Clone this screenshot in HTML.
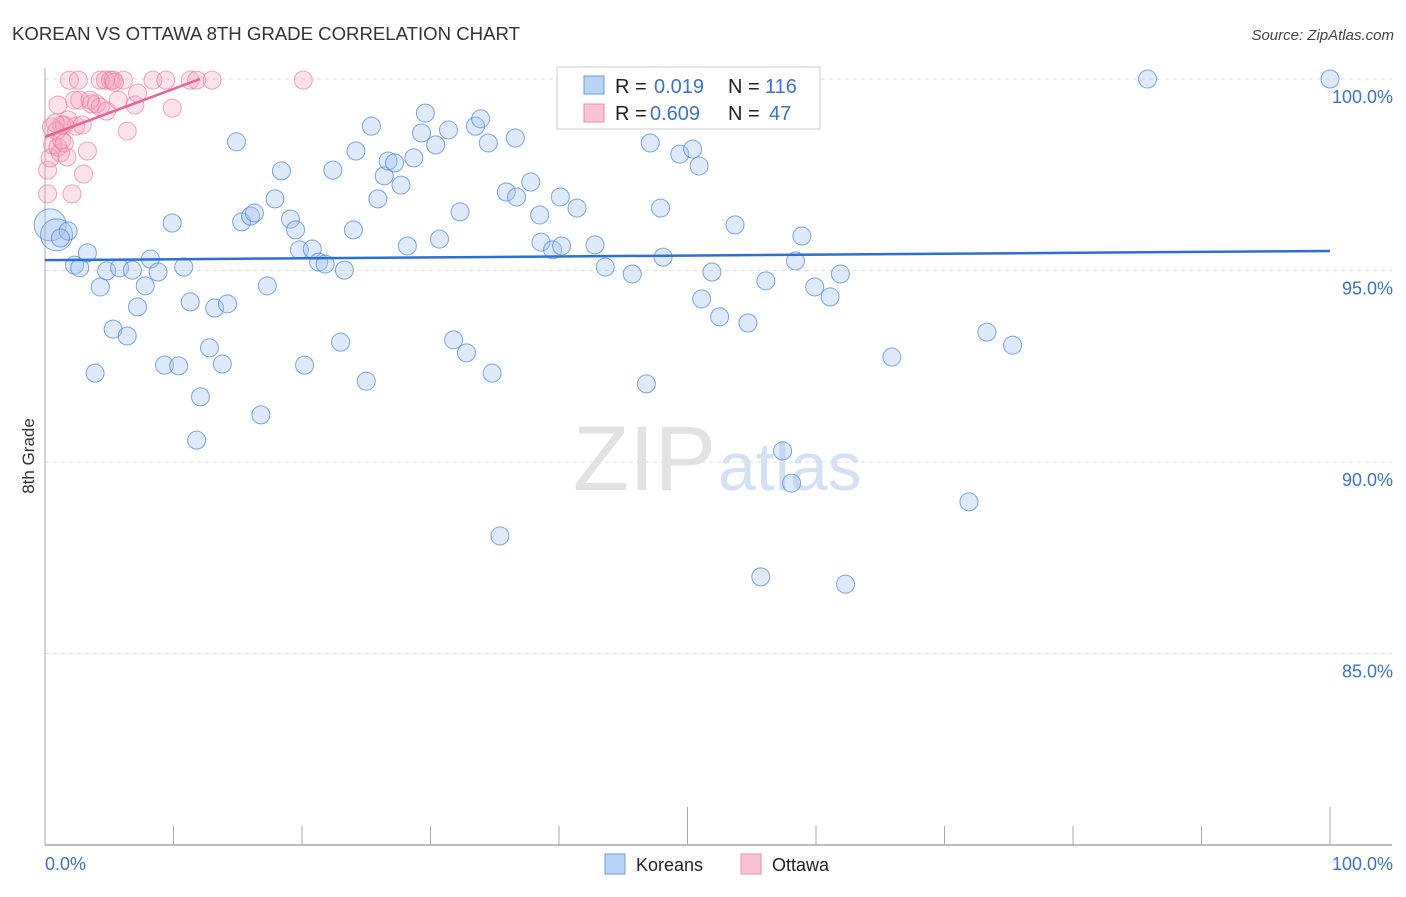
<!DOCTYPE html>
<html><head><meta charset="utf-8"><style>
body{margin:0;background:#fff;font-family:"Liberation Sans",sans-serif}
svg text{font-family:"Liberation Sans",sans-serif}
</style></head><body>
<svg id="chart" width="1406" height="892" viewBox="0 0 1406 892" xmlns="http://www.w3.org/2000/svg">
<text x="12" y="40" font-size="18.6" fill="#333">KOREAN VS OTTAWA 8TH GRADE CORRELATION CHART</text>
<text x="1394" y="40" font-size="15" fill="#444" text-anchor="end" font-style="italic">Source: ZipAtlas.com</text>
<text x="716" y="490" font-size="92" fill="#e2e2e2" text-anchor="end" font-family="Liberation Serif">ZIP</text>
<text x="718" y="490" font-size="68" fill="#d3e1f4">atlas</text>
<g id="grid"></g>
<g id="axes"></g>
<g id="pts"></g>
<g id="lines"></g>
<text transform="translate(34,456) rotate(-90)" font-size="17" fill="#333" text-anchor="middle">8th Grade</text>
<g>
<rect x="557" y="67" width="263" height="62" fill="#fff" stroke="#ccc"/>
<rect x="584" y="76" width="20" height="18" fill="#b8d4f5" stroke="#6a9de0"/>
<rect x="584" y="104" width="20" height="18" fill="#f9c3d3" stroke="#eb8fab"/>
<text x="615" y="93" font-size="20" fill="#222">R = </text><text x="654" y="93" font-size="20" fill="#3b72cc">0.019</text>
<text x="728" y="93" font-size="20" fill="#222">N = </text><text x="765" y="93" font-size="20" fill="#3b72cc">116</text>
<text x="615" y="120" font-size="20" fill="#222">R = </text><text x="650" y="120" font-size="20" fill="#3b72cc">0.609</text>
<text x="728" y="120" font-size="20" fill="#222">N = </text><text x="769" y="120" font-size="20" fill="#3b72cc">47</text>
</g>
<g>
<rect x="605" y="854" width="20" height="20" fill="#b8d4f5" stroke="#6a9de0"/>
<text x="636" y="871" font-size="18" fill="#222">Koreans</text>
<rect x="741" y="854" width="20" height="20" fill="#f9c3d3" stroke="#eb8fab"/>
<text x="772" y="871" font-size="18" fill="#222">Ottawa</text>
</g>
</svg>
<script>
const yTicks=[100,95,90,85];
const yTickLabels=["100.0%","95.0%","90.0%","85.0%"];
const xTicks=[0,10,20,30,40,50,60,70,80,90,100];
const koreansX=[0.4,0.9,1.8,1.2,2.3,2.7,3.3,3.9,4.3,4.8,5.3,5.8,6.4,6.8,7.2,7.8,8.2,8.8,9.3,9.9,10.4,10.8,11.3,11.8,12.1,12.8,13.2,13.8,14.2,14.9,15.3,16.0,16.3,16.8,17.3,17.9,18.4,19.1,19.5,19.8,20.2,20.8,21.3,21.8,22.4,23.0,23.3,24.0,24.2,25.0,25.4,25.9,26.4,26.7,27.2,27.7,28.2,28.7,29.3,29.6,30.4,30.7,31.4,31.8,32.3,32.8,33.5,33.9,34.5,34.8,35.4,35.9,36.6,36.7,37.8,38.5,38.6,39.5,40.1,40.2,41.4,42.8,43.6,45.7,46.8,47.1,47.9,48.1,49.4,50.4,51.1,50.9,51.9,52.5,53.7,54.7,55.7,56.1,57.4,58.1,58.4,58.9,59.9,61.1,61.9,65.9,71.9,73.3,75.3,85.8,100,40.8,54.4,62.3];
const koreansY=[96.19,95.93,96.03,95.85,95.14,95.07,95.46,92.32,94.57,94.99,93.47,95.07,93.29,95.01,94.05,94.60,95.30,94.96,92.53,96.24,92.51,95.09,94.18,90.57,91.70,92.98,94.02,92.56,94.13,98.36,96.27,96.42,96.50,91.23,94.60,96.87,97.60,96.34,96.06,95.54,92.53,95.56,95.22,95.17,97.62,93.13,95.01,96.06,98.12,92.11,98.77,96.87,97.47,97.86,97.81,97.23,95.64,97.94,98.59,99.11,98.28,95.82,98.67,93.19,96.53,92.85,98.77,98.96,98.33,92.32,88.07,97.05,98.46,96.92,97.31,96.45,95.74,95.54,96.92,95.64,96.63,95.67,95.09,94.91,92.04,98.33,96.63,95.35,98.04,98.17,94.26,97.73,94.96,93.79,96.19,93.63,87.00,94.73,90.29,89.45,95.25,95.90,94.57,94.31,94.91,92.74,88.96,93.39,93.05,100,100,100,100,86.81];
const ottawaX=[0.2,0.2,0.4,0.5,0.6,0.9,1.0,1.2,1.3,1.5,1.7,1.8,1.9,2.1,2.3,2.4,2.7,2.9,3.0,3.3,3.6,4.0,4.3,4.7,4.8,5.1,5.3,5.7,6.1,6.4,7.0,7.2,8.4,9.4,9.9,11.3,11.8,13.0,20.1,1.0,1.3,1.5,0.8,4.3,5.4,2.6,3.5];
const ottawaY=[97.0,97.62,97.94,98.75,98.28,98.64,98.22,98.07,98.41,98.80,97.96,98.93,99.97,97.0,99.45,98.77,99.45,98.80,97.52,98.12,99.35,99.35,99.97,99.97,99.16,99.97,99.97,99.45,99.97,98.64,99.32,99.63,99.97,99.97,99.24,99.97,99.97,99.97,99.97,99.32,98.80,98.33,98.85,99.27,99.92,99.97,99.45];
const koreansTrend=[[0,95.27],[100,95.51]];
const ottawaTrend=[[0,98.49],[12.06,100]];
const NS="http://www.w3.org/2000/svg";
const X=v=>45+v*12.85, Y=v=>79+(100-v)*38.3;
function mk(t,a,p){const e=document.createElementNS(NS,t);for(const k in a)e.setAttribute(k,a[k]);document.getElementById(p).appendChild(e);return e;}
yTicks.forEach((t,i)=>{
 const l=mk('line',{x1:45,x2:1392,y1:Y(t),y2:Y(t),stroke:'#ddd','stroke-dasharray':'4,4'},'grid');
 
 
 const tx=mk('text',{x:1393,y:Y(t)+24,'font-size':18,fill:'#3b72cc','text-anchor':'end'},'axes');
 tx.textContent=yTickLabels[i];
 
 
});
const ax=mk('line',{x1:45,x2:45,y1:68,y2:845,stroke:'#aaa'},'axes');


const bx=mk('line',{x1:45,x2:1392,y1:845,y2:845,stroke:'#aaa','stroke-width':1.5},'axes');


xTicks.forEach(t=>{
 const tl=mk('line',{x1:X(t),x2:X(t),y1:(t===50||t===100)?807:826,y2:845,stroke:'#aaa'},'axes');
 
 
});
const x0=mk('text',{x:45,y:870,'font-size':18,fill:'#3b72cc'},'axes');x0.textContent='0.0%';


const x1=mk('text',{x:1393,y:870,'font-size':18,fill:'#3b72cc','text-anchor':'end'},'axes');x1.textContent='100.0%';


ottawaX.forEach((v,i)=>{
 const c=mk('circle',{cx:X(v),cy:Y(ottawaY[i]),r:9,fill:'rgba(246,160,188,0.3)',stroke:'rgba(234,120,155,0.65)','stroke-width':1},'pts');
 
 
});
koreansX.forEach((v,i)=>{
 const c=mk('circle',{cx:X(v),cy:Y(koreansY[i]),r:i<2?16:9,fill:'rgba(160,196,240,0.35)',stroke:'rgba(70,130,215,0.7)','stroke-width':1},'pts');
 
 
});
const kl=mk('line',{x1:X(koreansTrend[0][0]),y1:Y(koreansTrend[0][1]),x2:X(koreansTrend[1][0]),y2:Y(koreansTrend[1][1]),stroke:'#2a6fd6','stroke-width':2.5},'lines');


const ol=mk('line',{x1:X(ottawaTrend[0][0]),y1:Y(ottawaTrend[0][1]),x2:X(ottawaTrend[1][0]),y2:Y(ottawaTrend[1][1]),stroke:'#e8638d','stroke-width':2.5},'lines');


</script>
</body></html>
